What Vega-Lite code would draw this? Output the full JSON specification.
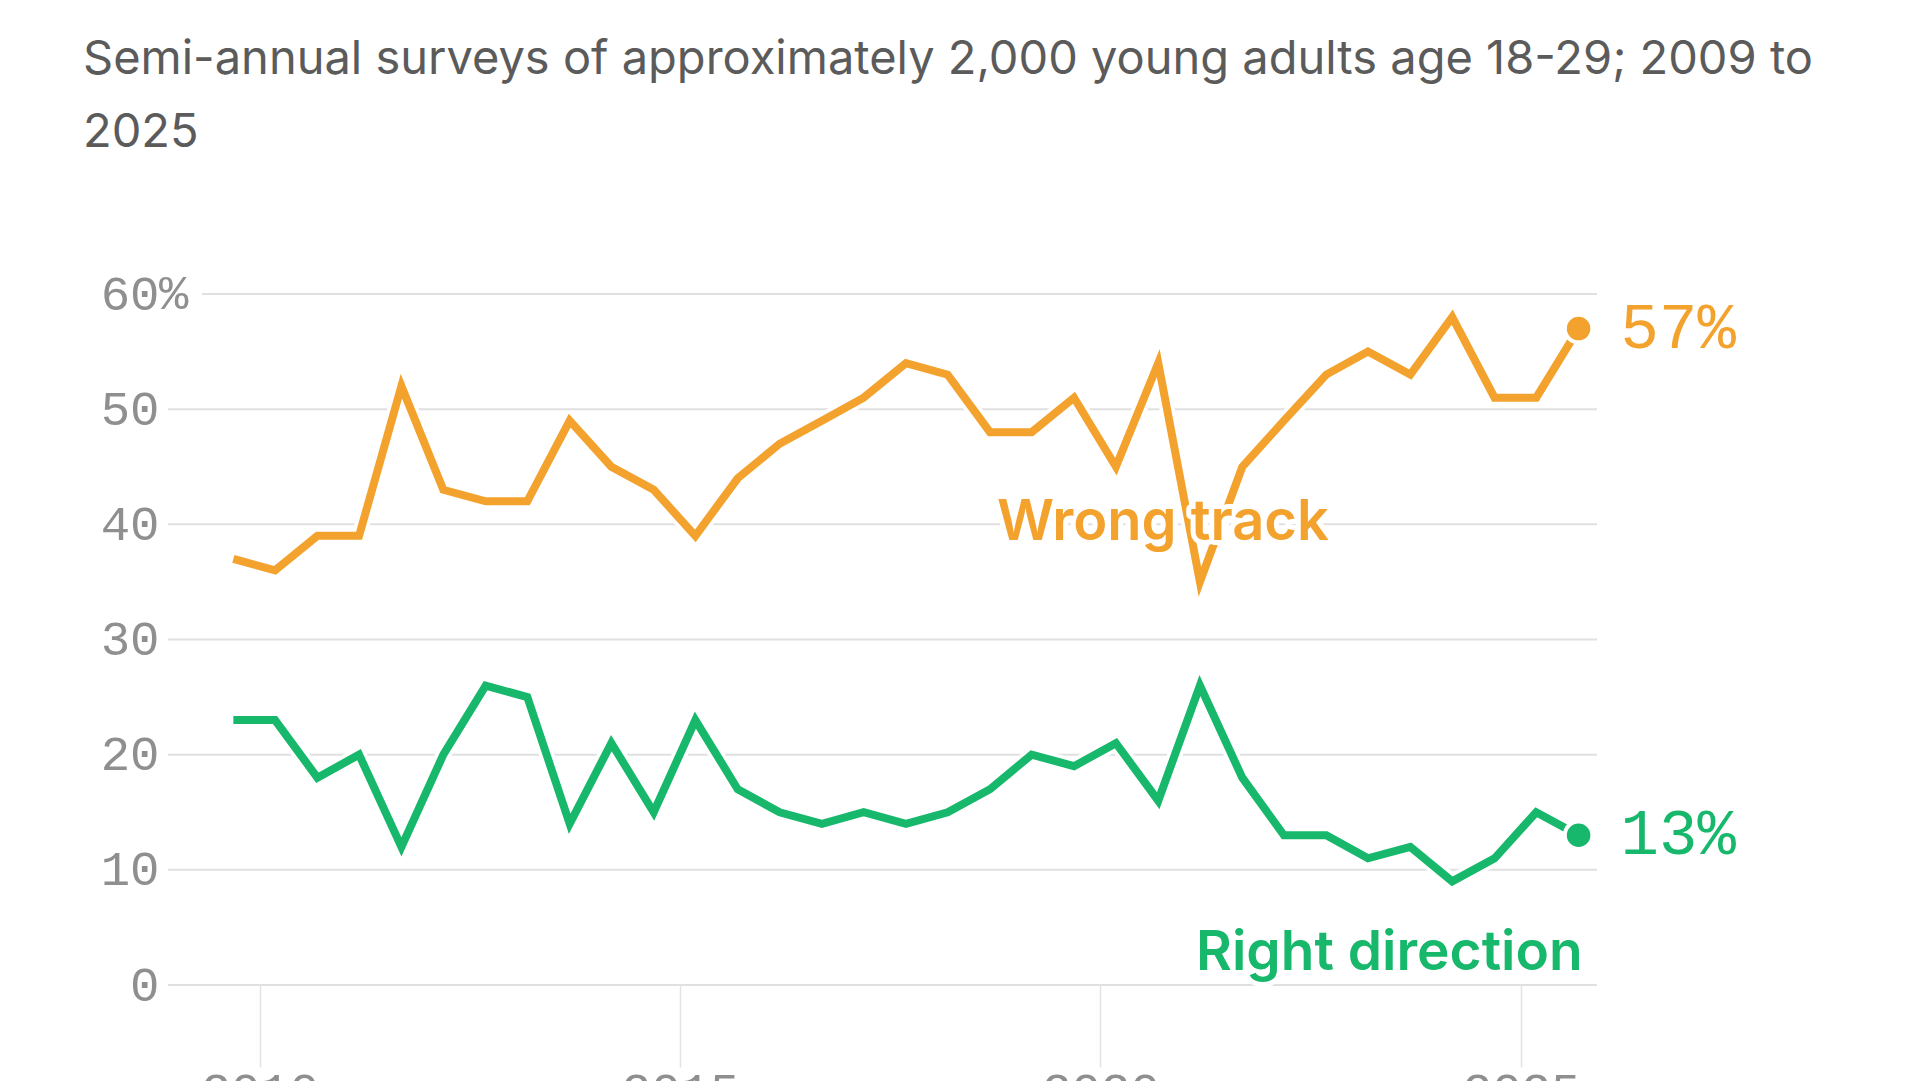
{
  "$schema": "https://vega.github.io/schema/vega-lite/v6.json",
  "width": 1429,
  "height": 691,
  "autosize": {"type": "none"},
  "padding": {"left": 168, "top": 294, "right": 323, "bottom": 96},
  "background": "white",
  "config": {"view": {"stroke": null}},
  "title": {
    "text": ["Semi-annual surveys of approximately 2,000 young adults age 18-29; 2009 to", "2025"],
    "anchor": "start",
    "frame": "group",
    "dx": -85,
    "offset": 113,
    "font": "Inter",
    "fontSize": 47,
    "fontWeight": 400,
    "color": "#5b5b5b",
    "lineHeight": 73.5
  },
  "datasets": {
    "polls": [
      {"date": "2009-09-08", "series": "Wrong track", "value": 37},
      {"date": "2010-03-08", "series": "Wrong track", "value": 36},
      {"date": "2010-09-08", "series": "Wrong track", "value": 39},
      {"date": "2011-03-08", "series": "Wrong track", "value": 39},
      {"date": "2011-09-08", "series": "Wrong track", "value": 52},
      {"date": "2012-03-08", "series": "Wrong track", "value": 43},
      {"date": "2012-09-08", "series": "Wrong track", "value": 42},
      {"date": "2013-03-08", "series": "Wrong track", "value": 42},
      {"date": "2013-09-08", "series": "Wrong track", "value": 49},
      {"date": "2014-03-08", "series": "Wrong track", "value": 45},
      {"date": "2014-09-08", "series": "Wrong track", "value": 43},
      {"date": "2015-03-08", "series": "Wrong track", "value": 39},
      {"date": "2015-09-08", "series": "Wrong track", "value": 44},
      {"date": "2016-03-08", "series": "Wrong track", "value": 47},
      {"date": "2016-09-08", "series": "Wrong track", "value": 49},
      {"date": "2017-03-08", "series": "Wrong track", "value": 51},
      {"date": "2017-09-08", "series": "Wrong track", "value": 54},
      {"date": "2018-03-08", "series": "Wrong track", "value": 53},
      {"date": "2018-09-08", "series": "Wrong track", "value": 48},
      {"date": "2019-03-08", "series": "Wrong track", "value": 48},
      {"date": "2019-09-08", "series": "Wrong track", "value": 51},
      {"date": "2020-03-08", "series": "Wrong track", "value": 45},
      {"date": "2020-09-08", "series": "Wrong track", "value": 54},
      {"date": "2021-03-08", "series": "Wrong track", "value": 35},
      {"date": "2021-09-08", "series": "Wrong track", "value": 45},
      {"date": "2022-03-08", "series": "Wrong track", "value": 49},
      {"date": "2022-09-08", "series": "Wrong track", "value": 53},
      {"date": "2023-03-08", "series": "Wrong track", "value": 55},
      {"date": "2023-09-08", "series": "Wrong track", "value": 53},
      {"date": "2024-03-08", "series": "Wrong track", "value": 58},
      {"date": "2024-09-08", "series": "Wrong track", "value": 51},
      {"date": "2025-03-08", "series": "Wrong track", "value": 51},
      {"date": "2025-09-08", "series": "Wrong track", "value": 57},
      {"date": "2009-09-08", "series": "Right direction", "value": 23},
      {"date": "2010-03-08", "series": "Right direction", "value": 23},
      {"date": "2010-09-08", "series": "Right direction", "value": 18},
      {"date": "2011-03-08", "series": "Right direction", "value": 20},
      {"date": "2011-09-08", "series": "Right direction", "value": 12},
      {"date": "2012-03-08", "series": "Right direction", "value": 20},
      {"date": "2012-09-08", "series": "Right direction", "value": 26},
      {"date": "2013-03-08", "series": "Right direction", "value": 25},
      {"date": "2013-09-08", "series": "Right direction", "value": 14},
      {"date": "2014-03-08", "series": "Right direction", "value": 21},
      {"date": "2014-09-08", "series": "Right direction", "value": 15},
      {"date": "2015-03-08", "series": "Right direction", "value": 23},
      {"date": "2015-09-08", "series": "Right direction", "value": 17},
      {"date": "2016-03-08", "series": "Right direction", "value": 15},
      {"date": "2016-09-08", "series": "Right direction", "value": 14},
      {"date": "2017-03-08", "series": "Right direction", "value": 15},
      {"date": "2017-09-08", "series": "Right direction", "value": 14},
      {"date": "2018-03-08", "series": "Right direction", "value": 15},
      {"date": "2018-09-08", "series": "Right direction", "value": 17},
      {"date": "2019-03-08", "series": "Right direction", "value": 20},
      {"date": "2019-09-08", "series": "Right direction", "value": 19},
      {"date": "2020-03-08", "series": "Right direction", "value": 21},
      {"date": "2020-09-08", "series": "Right direction", "value": 16},
      {"date": "2021-03-08", "series": "Right direction", "value": 26},
      {"date": "2021-09-08", "series": "Right direction", "value": 18},
      {"date": "2022-03-08", "series": "Right direction", "value": 13},
      {"date": "2022-09-08", "series": "Right direction", "value": 13},
      {"date": "2023-03-08", "series": "Right direction", "value": 11},
      {"date": "2023-09-08", "series": "Right direction", "value": 12},
      {"date": "2024-03-08", "series": "Right direction", "value": 9},
      {"date": "2024-09-08", "series": "Right direction", "value": 11},
      {"date": "2025-03-08", "series": "Right direction", "value": 15},
      {"date": "2025-09-08", "series": "Right direction", "value": 13}
    ],
    "grid": [
      {"date": "2008-11-28", "date2": "2025-11-27", "value": 0},
      {"date": "2008-11-28", "date2": "2025-11-27", "value": 10},
      {"date": "2008-11-28", "date2": "2025-11-27", "value": 20},
      {"date": "2008-11-28", "date2": "2025-11-27", "value": 30},
      {"date": "2008-11-28", "date2": "2025-11-27", "value": 40},
      {"date": "2008-11-28", "date2": "2025-11-27", "value": 50},
      {"date": "2009-04-25", "date2": "2025-11-27", "value": 60}
    ],
    "wrongLabel": [{"date": "2020-09-28", "value": 40.1, "label": "Wrong track", "series": "Wrong track"}],
    "rightLabel": [{"date": "2025-09-08", "value": 2.8, "label": "Right direction", "series": "Right direction"}],
    "pct": [{"date": "2008-11-28", "value": 60, "label": "%"}]
  },
  "encoding": {
    "x": {
      "field": "date",
      "type": "temporal",
      "scale": {"domain": [{"year": 2008, "month": 11, "date": 28}, {"year": 2025, "month": 11, "date": 27}]},
      "axis": {
        "values": [{"year": 2010}, {"year": 2015}, {"year": 2020}, {"year": 2025}],
        "format": "%Y",
        "domain": false,
        "grid": false,
        "tickSize": 82,
        "tickColor": "#e3e3e3",
        "tickWidth": 1.5,
        "labelFont": "Liberation Mono",
        "labelFontSize": 49,
        "labelColor": "#8f8f8f",
        "labelPadding": 0,
        "labelFlush": false,
        "labelOverlap": false,
        "title": null
      }
    },
    "y": {
      "field": "value",
      "type": "quantitative",
      "scale": {"domain": [0, 60]},
      "axis": {
        "values": [0, 10, 20, 30, 40, 50, 60],
        "domain": false,
        "grid": false,
        "ticks": false,
        "tickSize": 0,
        "labelPadding": 9,
        "labelFont": "Liberation Mono",
        "labelFontSize": 49,
        "labelColor": "#8f8f8f",
        "labelBaseline": "middle",
        "title": null
      }
    }
  },
  "layer": [
    {
      "data": {"name": "grid"},
      "mark": {"type": "rule", "color": "#e0e0e0", "strokeWidth": 2},
      "encoding": {"x2": {"field": "date2"}}
    },
    {
      "data": {"name": "polls"},
      "mark": {"type": "line", "color": "white", "strokeWidth": 15, "strokeJoin": "round"},
      "encoding": {"detail": {"field": "series"}}
    },
    {
      "data": {"name": "polls"},
      "mark": {"type": "line", "strokeWidth": 8},
      "encoding": {
        "color": {"field": "series", "type": "nominal", "scale": {"domain": ["Wrong track", "Right direction"], "range": ["#F3A22D", "#17B86B"]}, "legend": null}
      }
    },
    {
      "data": {"name": "polls"},
      "transform": [{"filter": "year(datum.date) == 2025 && month(datum.date) >= 6"}],
      "mark": {"type": "circle", "size": 760, "opacity": 1, "stroke": "white", "strokeWidth": 4},
      "encoding": {
        "color": {"field": "series", "type": "nominal", "legend": null}
      }
    },
    {
      "data": {"name": "polls"},
      "transform": [
        {"filter": "year(datum.date) == 2025 && month(datum.date) >= 6"},
        {"calculate": "datum.value + '%'", "as": "label"}
      ],
      "mark": {"type": "text", "align": "left", "baseline": "middle", "dx": 42, "font": "Liberation Mono", "fontSize": 64},
      "encoding": {
        "text": {"field": "label"},
        "color": {"field": "series", "type": "nominal", "legend": null}
      }
    },
    {
      "data": {"name": "wrongLabel"},
      "mark": {"type": "text", "align": "center", "baseline": "middle", "font": "Inter", "fontSize": 56, "fontWeight": 600, "fill": "white", "stroke": "white", "strokeWidth": 10, "strokeJoin": "round"},
      "encoding": {"text": {"field": "label"}}
    },
    {
      "data": {"name": "wrongLabel"},
      "mark": {"type": "text", "align": "center", "baseline": "middle", "font": "Inter", "fontSize": 56, "fontWeight": 600},
      "encoding": {"text": {"field": "label"}, "color": {"field": "series", "type": "nominal", "legend": null}}
    },
    {
      "data": {"name": "rightLabel"},
      "mark": {"type": "text", "align": "right", "baseline": "middle", "dx": 4, "font": "Inter", "fontSize": 55, "fontWeight": 600, "fill": "white", "stroke": "white", "strokeWidth": 10, "strokeJoin": "round"},
      "encoding": {"text": {"field": "label"}}
    },
    {
      "data": {"name": "rightLabel"},
      "mark": {"type": "text", "align": "right", "baseline": "middle", "dx": 4, "font": "Inter", "fontSize": 55, "fontWeight": 600},
      "encoding": {"text": {"field": "label"}, "color": {"field": "series", "type": "nominal", "legend": null}}
    },
    {
      "data": {"name": "pct"},
      "mark": {"type": "text", "align": "left", "baseline": "middle", "dx": -9, "font": "Liberation Mono", "fontSize": 49, "color": "#8f8f8f"},
      "encoding": {"text": {"field": "label"}}
    }
  ]
}
